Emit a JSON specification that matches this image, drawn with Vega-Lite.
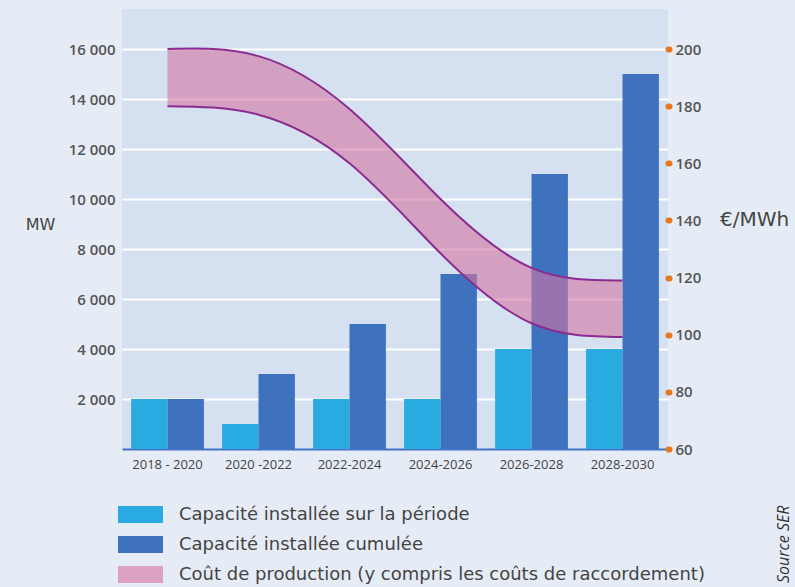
{
  "$schema": "https://vega.github.io/schema/vega-lite/v6.json",
  "width": 546,
  "height": 440,
  "autosize": {"type": "none"},
  "padding": {"left": 122, "top": 9, "right": 127, "bottom": 138},
  "background": "#E6ECF5",
  "config": {"view": {"fill": "#D5E0F0", "stroke": null}, "font": "Open Sans"},
  "title": {
    "text": "Source SER",
    "orient": "right",
    "anchor": "end",
    "frame": "group",
    "align": "left",
    "baseline": "middle",
    "angle": -90,
    "dx": -134,
    "fontSize": 16,
    "fontStyle": "italic",
    "fontWeight": "normal",
    "color": "#333333",
    "offset": -21
  },
  "datasets": {
    "bars": [
      {"periode": "2018 - 2020", "serie": "Capacité installée sur la période", "mw": 2000},
      {"periode": "2018 - 2020", "serie": "Capacité installée cumulée", "mw": 2000},
      {"periode": "2020 -2022", "serie": "Capacité installée sur la période", "mw": 1000},
      {"periode": "2020 -2022", "serie": "Capacité installée cumulée", "mw": 3000},
      {"periode": "2022-2024", "serie": "Capacité installée sur la période", "mw": 2000},
      {"periode": "2022-2024", "serie": "Capacité installée cumulée", "mw": 5000},
      {"periode": "2024-2026", "serie": "Capacité installée sur la période", "mw": 2000},
      {"periode": "2024-2026", "serie": "Capacité installée cumulée", "mw": 7000},
      {"periode": "2026-2028", "serie": "Capacité installée sur la période", "mw": 4000},
      {"periode": "2026-2028", "serie": "Capacité installée cumulée", "mw": 11000},
      {"periode": "2028-2030", "serie": "Capacité installée sur la période", "mw": 4000},
      {"periode": "2028-2030", "serie": "Capacité installée cumulée", "mw": 15000}
    ],
    "cout": [
      {"periode": "2018 - 2020", "bas": 180, "haut": 200},
      {"periode": "2020 -2022", "bas": 177, "haut": 197.5},
      {"periode": "2022-2024", "bas": 160, "haut": 179},
      {"periode": "2024-2026", "bas": 128.5, "haut": 147.5},
      {"periode": "2026-2028", "bas": 104, "haut": 123.4},
      {"periode": "2028-2030", "bas": 99.2, "haut": 119}
    ]
  },
  "layer": [
    {
      "data": {"name": "bars"},
      "mark": {"type": "bar"},
      "encoding": {
        "x": {
          "field": "periode",
          "type": "nominal",
          "scale": {"domain": ["2018 - 2020", "2020 -2022", "2022-2024", "2024-2026", "2026-2028", "2028-2030"], "paddingInner": 0.2, "paddingOuter": 0.1},
          "axis": {
            "title": null,
            "labelAngle": 0,
            "ticks": false,
            "domainColor": "#4472C4",
            "domainWidth": 2,
            "labelFontSize": 13,
            "labelColor": "#444444",
            "labelPadding": 9
          }
        },
        "xOffset": {
          "field": "serie",
          "type": "nominal",
          "scale": {"domain": ["Capacité installée sur la période", "Capacité installée cumulée"], "paddingInner": 0, "paddingOuter": 0}
        },
        "y": {
          "field": "mw",
          "type": "quantitative",
          "scale": {"domain": [0, 17600], "nice": false},
          "axis": {
            "orient": "left",
            "values": [2000, 4000, 6000, 8000, 10000, 12000, 14000, 16000],
            "labelExpr": "replace(format(datum.value, ','), ',', ' ')",
            "grid": true,
            "gridColor": "#FFFFFF",
            "gridWidth": 2,
            "ticks": false,
            "domain": false,
            "labelFontSize": 15,
            "labelFontWeight": 600,
            "labelColor": "#555555",
            "labelPadding": 7,
            "title": "MW",
            "titleFont": "DejaVu Sans",
            "titleAngle": 0,
            "titleX": -82,
            "titleY": 215,
            "titleAlign": "center",
            "titleBaseline": "middle",
            "titleFontSize": 16,
            "titleFontWeight": "normal",
            "titleColor": "#444444"
          }
        },
        "fill": {
          "field": "serie",
          "type": "nominal",
          "scale": {
            "domain": ["Capacité installée sur la période", "Capacité installée cumulée", "Coût de production (y compris les coûts de raccordement)"],
            "range": ["#29ABE2", "#3F72BE", "#D375A2"]
          },
          "legend": {
            "orient": "none",
            "legendX": 7,
            "legendY": 494,
            "title": null,
            "symbolType": "M-2,-0.75H2V0.75H-2Z",
            "symbolSize": 506,
            "symbolStrokeWidth": 0,
            "symbolOpacity": 1,
            "labelFont": "DejaVu Sans",
            "labelFontSize": 18,
            "labelColor": "#444444",
            "labelLimit": 0,
            "labelOffset": 27,
            "rowPadding": 9,
            "encode": {
              "symbols": {
                "update": {
                  "fillOpacity": {"signal": "indexof(datum.value, 'Co') == 0 ? 0.62 : 1"}
                }
              }
            }
          }
        }
      }
    },
    {
      "data": {"name": "cout"},
      "mark": {"type": "area", "fillOpacity": 0.6, "interpolate": "natural"},
      "encoding": {
        "x": {"field": "periode", "type": "nominal", "bandPosition": 0.5},
        "y": {
          "field": "bas",
          "type": "quantitative",
          "scale": {"domain": [60, 214], "nice": false},
          "axis": {
            "orient": "right",
            "values": [60, 80, 100, 120, 140, 160, 180, 200],
            "grid": false,
            "domain": false,
            "ticks": true,
            "tickColor": "#E87722",
            "tickSize": 1,
            "tickWidth": 6,
            "tickCap": "round",
            "labelFontSize": 15,
            "labelFontWeight": 600,
            "labelColor": "#555555",
            "labelPadding": 6,
            "title": "€/MWh",
            "titleFont": "DejaVu Sans",
            "titleAngle": 0,
            "titleX": 86,
            "titleY": 210,
            "titleAlign": "center",
            "titleBaseline": "middle",
            "titleFontSize": 20,
            "titleFontWeight": "normal",
            "titleColor": "#444444"
          }
        },
        "y2": {"field": "haut"},
        "fill": {"datum": "Coût de production (y compris les coûts de raccordement)"}
      }
    },
    {
      "data": {"name": "cout"},
      "mark": {"type": "line", "color": "#8B2C92", "strokeWidth": 2, "interpolate": "natural"},
      "encoding": {
        "x": {"field": "periode", "type": "nominal", "bandPosition": 0.5},
        "y": {"field": "bas", "type": "quantitative", "scale": {"domain": [60, 214], "nice": false}, "axis": null}
      }
    },
    {
      "data": {"name": "cout"},
      "mark": {"type": "line", "color": "#8B2C92", "strokeWidth": 2, "interpolate": "natural"},
      "encoding": {
        "x": {"field": "periode", "type": "nominal", "bandPosition": 0.5},
        "y": {"field": "haut", "type": "quantitative", "scale": {"domain": [60, 214], "nice": false}, "axis": null}
      }
    }
  ],
  "resolve": {"scale": {"y": "independent"}}
}
